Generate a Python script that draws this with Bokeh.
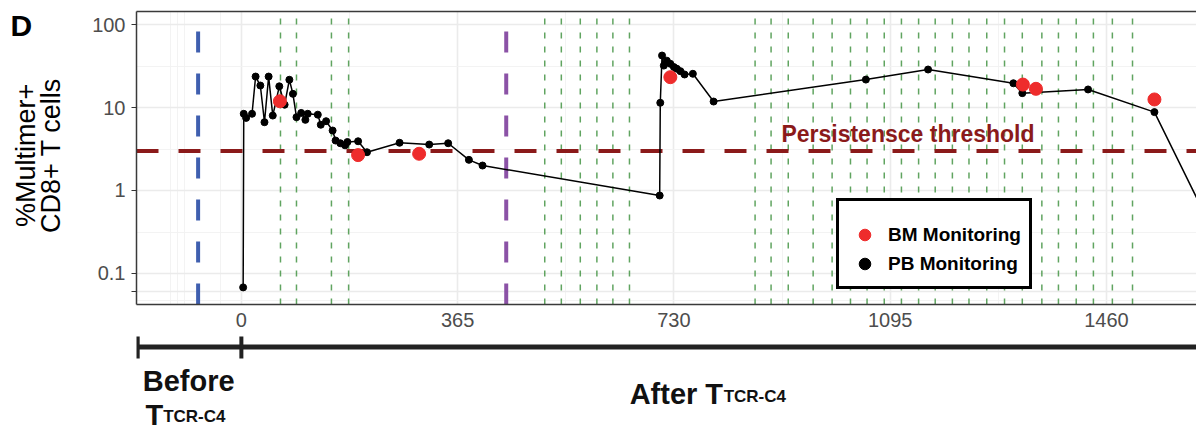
import math
from bokeh.plotting import figure
from bokeh.models import (Range1d, FixedTicker, CustomJSTickFormatter,
                          Legend, LegendItem, LinearAxis)
from bokeh.layouts import column, row
from bokeh.embed import file_html
from bokeh.resources import INLINE
from bokeh.core.properties import value

# ---------------- data ----------------
pb_day = [3, 4, 8, 18, 24, 32, 39, 46, 53, 64, 73, 81, 87, 93, 101, 108, 112,
          129, 134, 143, 154, 159, 167, 175, 179, 197, 212, 267, 317, 349, 384,
          407, 706, 707, 710, 713, 718, 724, 730, 735, 741, 748, 762, 797, 1054,
          1159, 1303, 1318, 1429, 1541, 1620]
pb_val = [0.068, 8.4, 7.5, 8.4, 23.6, 18.4, 6.65, 23.6, 8.0, 18.0, 10.8, 21.6,
          14.6, 7.65, 8.6, 7.1, 8.4, 8.2, 6.2, 6.84, 5.28, 4.0, 3.71, 3.5, 3.84,
          3.92, 2.89, 3.76, 3.58, 3.71, 2.34, 2.0, 0.87, 11.4, 42.3, 32.0, 36.7,
          33.6, 30.7, 29.3, 27.4, 25.0, 25.5, 11.8, 21.7, 28.7, 19.6, 14.9, 16.5,
          8.8, 0.63]
bm_day = [65, 197, 300, 724, 1319, 1341, 1541]
bm_val = [11.9, 2.67, 2.77, 23.2, 18.9, 16.8, 12.5]

green_days = [66, 93, 152, 181, 512, 540, 572, 600, 627, 655, 867, 894, 923,
              965, 997, 1028, 1056, 1085, 1114, 1143, 1171, 1200, 1228, 1258,
              1288, 1318, 1351, 1379, 1409, 1438, 1470, 1504]
blue_day = -73
purple_day = 447
threshold = 3
threshold_label = "Persistensce threshold"
panel_letter = "D"
y_label_lines = ["%Multimer+", "CD8+ T cells"]

x_ticks = [0, 365, 730, 1095, 1460]
x_minor = [-120, -108, -96, -35, 182.5, 547.5, 912.5, 1277.5]
y_ticks = [0.06, 0.1, 1, 10, 100]
y_minor = [0.047, 0.316, 3.16, 31.6]

# ---------------- layout constants ----------------
X0, X1 = -177, 1612
Y0, Y1 = 0.0423, 143.5
FONT = value("Liberation Sans")
STRIP_W = 70
TOP_H = 334
BORDER = "#3a3a3a"

# ---------- left strip: panel letter and y-axis title ----------
strip = figure(width=STRIP_W, height=TOP_H, x_range=Range1d(0, STRIP_W),
               y_range=Range1d(0, TOP_H), output_backend="svg",
               toolbar_location=None, x_axis_location=None,
               y_axis_location=None, min_border_left=0, min_border_right=0,
               min_border_top=0, min_border_bottom=0)
strip.grid.visible = False
strip.outline_line_color = None
strip.text(x=[10], y=[318], text=[panel_letter], text_font=FONT,
           text_font_style="bold", text_font_size="30px", text_color="black",
           text_align="left", text_baseline="alphabetic")
strip.text(x=[25, 50], y=[170, 170], text=y_label_lines,
           angle=math.pi / 2, text_font=FONT, text_font_size="27px",
           text_color="black", text_align="center", text_baseline="middle")

# ---------------- main chart ----------------
p = figure(width=1196 - STRIP_W, height=TOP_H, x_range=Range1d(X0, X1),
           y_range=Range1d(Y0, Y1), y_axis_type="log",
           output_backend="svg", toolbar_location=None,
           min_border_left=136 - STRIP_W, min_border_right=0,
           min_border_top=11, min_border_bottom=30)
p.outline_line_color = None
p.background_fill_color = "white"

p.xgrid.ticker = FixedTicker(ticks=x_ticks, minor_ticks=x_minor)
p.ygrid.ticker = FixedTicker(ticks=y_ticks, minor_ticks=y_minor)
for g in (p.xgrid, p.ygrid):
    g.grid_line_color = "#EBEBEB"
    g.grid_line_width = 1.6
    g.minor_grid_line_color = "#F2F2F2"
    g.minor_grid_line_width = 0.9

p.xaxis.ticker = FixedTicker(ticks=x_ticks)
p.xaxis.axis_line_color = BORDER
p.xaxis.axis_line_width = 1.5
p.xaxis.major_tick_line_color = None
p.xaxis.minor_tick_line_color = None
p.xaxis.major_label_standoff = 2
p.xaxis.major_label_text_font = "Liberation Sans"
p.xaxis.major_label_text_font_size = "20px"
p.xaxis.major_label_text_color = "#4D4D4D"

p.yaxis.ticker = FixedTicker(ticks=y_ticks)
p.yaxis.formatter = CustomJSTickFormatter(code="""
if (tick < 0.08) return '';
if (tick >= 1) return tick.toFixed(0);
return tick.toString();
""")
p.yaxis.axis_line_color = BORDER
p.yaxis.axis_line_width = 1.5
p.yaxis.major_tick_line_color = "#333333"
p.yaxis.major_tick_line_width = 1.2
p.yaxis.major_tick_out = 5
p.yaxis.major_tick_in = 0
p.yaxis.minor_tick_line_color = None
p.yaxis.major_label_standoff = 6
p.yaxis.major_label_text_font = "Liberation Sans"
p.yaxis.major_label_text_font_size = "20px"
p.yaxis.major_label_text_color = "#4D4D4D"

# top border only (the panel runs off the right edge)
top_axis = LinearAxis(ticker=FixedTicker(ticks=[]), axis_line_color=BORDER,
                      axis_line_width=1.5, major_tick_line_color=None,
                      minor_tick_line_color=None,
                      major_label_text_font_size="0px")
p.add_layout(top_axis, "above")

# green dashed vertical lines
p.segment(x0=green_days, y0=[Y0] * len(green_days), x1=green_days,
          y1=[Y1] * len(green_days), line_color="#4f9a4f", line_alpha=0.9,
          line_width=1.5, line_dash="6 8")
# blue / purple event lines
p.segment(x0=[blue_day], y0=[Y0], x1=[blue_day], y1=[Y1],
          line_color="#3F5FAF", line_width=4, line_dash="21 21")
p.segment(x0=[purple_day], y0=[Y0], x1=[purple_day], y1=[Y1],
          line_color="#8B52A6", line_width=4, line_dash="21 21")
# threshold
p.segment(x0=[X0], y0=[threshold], x1=[X1], y1=[threshold],
          line_color="#8B1A1A", line_width=4, line_dash="22 20")
p.text(x=[1125], y=[4.73], text=[threshold_label], text_font=FONT,
       text_font_style="bold", text_font_size="23px", text_color="#8B1A1A",
       text_align="center", text_baseline="alphabetic")

# data
p.line(pb_day, pb_val, line_color="black", line_width=1.5)
r_pb = p.scatter(pb_day, pb_val, size=7, color="black")
r_bm = p.scatter(bm_day, bm_val, size=13, color="#EE2C2C")

legend = Legend(items=[LegendItem(label="BM Monitoring", renderers=[r_bm]),
                       LegendItem(label="PB Monitoring", renderers=[r_pb])],
                location=(700, 15))
legend.title = " "
legend.title_text_font_size = "9px"
legend.title_standoff = 1
legend.label_text_font = "Liberation Sans"
legend.label_text_font_size = "19px"
legend.label_text_font_style = "bold"
legend.label_text_color = "black"
legend.glyph_width = 35
legend.glyph_height = 29
legend.label_height = 29
legend.label_standoff = 6
legend.padding = 8
legend.spacing = 0
legend.margin = 0
legend.border_line_color = "black"
legend.border_line_alpha = 1
legend.border_line_width = 3
legend.background_fill_color = "white"
legend.background_fill_alpha = 1
p.add_layout(legend)

# ---------------- timeline below ----------------
BOT_H = 429 - TOP_H
p2 = figure(width=1196, height=BOT_H, x_range=p.x_range,
            y_range=Range1d(0, BOT_H), output_backend="svg",
            toolbar_location=None, x_axis_location=None, y_axis_location=None,
            min_border_left=136, min_border_right=0, min_border_top=0,
            min_border_bottom=0)
p2.grid.visible = False
p2.outline_line_color = None
p2.segment(x0=[-175], y0=[82.5], x1=[X1 + 50], y1=[82.5], line_color="#222222",
           line_width=5)
p2.segment(x0=[-175, 0], y0=[71, 71], x1=[-175, 0], y1=[93, 93],
           line_color="#222222", line_width=4)
p2.text(x=[-89], y=[49], text=["Before"], text_font=FONT,
        text_font_style="bold", text_font_size="29px", text_color="#111111",
        text_align="center", text_baseline="alphabetic")
p2.text(x=[-132, 813], y=[15, 36], text=["T", "After T"], text_font=FONT,
        text_font_style="bold", text_font_size="29px", text_color="#111111",
        text_align="right", text_baseline="alphabetic")
p2.text(x=[-132, 814], y=[13, 33], text=["TCR-C4", "TCR-C4"], text_font=FONT,
        text_font_style="bold", text_font_size="17px", text_color="#111111",
        text_align="left", text_baseline="alphabetic")

layout = column(row(strip, p, spacing=0), p2, spacing=0)
open("out.html", "w").write(file_html(layout, INLINE))
